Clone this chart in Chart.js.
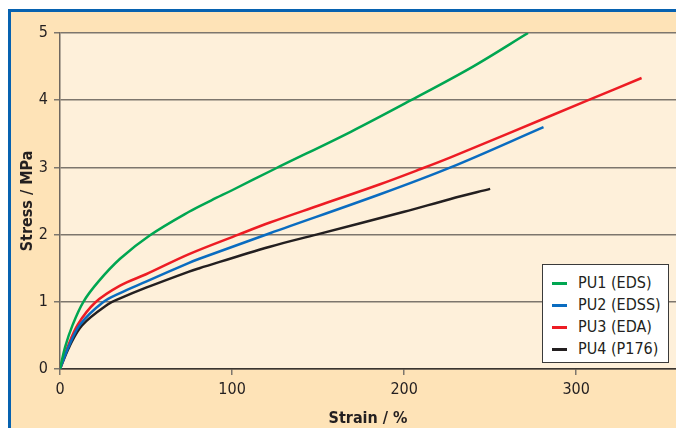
<!DOCTYPE html>
<html>
<head>
<meta charset="utf-8">
<script src="https://cdn.jsdelivr.net/npm/chart.js@4"></script>
<style>
  html, body { margin: 0; padding: 0; background: #ffffff; }
  #frame {
    position: absolute; left: 8px; top: 9px; width: 668px; height: 419px;
    box-sizing: border-box; border-left: 3px solid #0762b0; border-top: 3px solid #0762b0;
    background: #fee3b7;
  }
  #chart { position: absolute; left: 0; top: 0; }
  #legend {
    position: absolute; left: 542px; top: 264px; width: 127px; height: 99px;
    box-sizing: border-box; background: #ffffff; border: 1.5px solid #3a3a3a;
    font-family: 'Liberation Sans Narrow', 'DejaVu Sans Condensed', sans-serif;
    font-size: 16px; color: #231f20; padding-top: 7px;
  }
  .row { height: 22px; line-height: 22px; position: relative; white-space: nowrap; }
  .swatch { position: absolute; left: 9px; top: 10px; width: 15px; height: 2.5px; }
  .label { position: absolute; left: 35px; top: 0; }
</style>
</head>
<body>
<div id="frame"></div>
<canvas id="chart" width="676" height="428"></canvas>
<div id="legend"></div>
<script>
// values
const seriesNames = ["PU1 (EDS)", "PU2 (EDSS)", "PU3 (EDA)", "PU4 (P176)"];
const seriesColors = ["#00a651", "#0a6cc0", "#ed1c24", "#231f20"];

const pu1Strain = [0, 3, 7.4, 13.6, 22.3, 34.9, 52.3, 75, 88, 100, 125, 169, 204, 240, 272];
const pu1Stress = [0, 0.33, 0.66, 1.0, 1.3, 1.64, 1.99, 2.34, 2.51, 2.66, 2.98, 3.53, 4.0, 4.5, 5.0];

const pu2Strain = [0, 5, 11.6, 24.8, 34.9, 50, 75, 81, 122, 186, 227, 281];
const pu2Stress = [0, 0.33, 0.66, 0.99, 1.13, 1.3, 1.58, 1.64, 2.02, 2.6, 3.0, 3.6];

const pu3Strain = [0, 4.5, 10.3, 20.5, 34.9, 50, 75, 103.7, 122, 150, 186, 210, 227, 260, 307, 338];
const pu3Stress = [0, 0.33, 0.66, 0.99, 1.24, 1.41, 1.71, 2.0, 2.18, 2.43, 2.75, 2.98, 3.15, 3.5, 4.0, 4.33];

const pu4Strain = [0, 5.4, 12.8, 27.7, 34.9, 50, 75, 81, 122, 149, 200, 227, 250];
const pu4Stress = [0, 0.33, 0.65, 0.96, 1.05, 1.21, 1.45, 1.5, 1.82, 2.0, 2.34, 2.53, 2.68];

const xTicks = [0, 100, 200, 300];
const yTicks = [0, 1, 2, 3, 4, 5];

const strains = [pu1Strain, pu2Strain, pu3Strain, pu4Strain];
const stresses = [pu1Stress, pu2Stress, pu3Stress, pu4Stress];

const font = "'Liberation Sans Narrow', 'DejaVu Sans Condensed', sans-serif";
const gridColor = "#7d766d";

const plotBackground = {
  id: "plotBackground",
  beforeDraw(chart) {
    const { ctx, chartArea: a } = chart;
    ctx.save();
    ctx.fillStyle = "#fef0da";
    ctx.fillRect(a.left, a.top, a.right - a.left, a.bottom - a.top);
    ctx.restore();
  }
};

const datasets = seriesNames.map((name, i) => ({
  label: name,
  data: strains[i].map((x, j) => ({ x: x, y: stresses[i][j] })),
  borderColor: seriesColors[i],
  borderWidth: 2.5,
  pointRadius: 0,
  fill: false,
  showLine: true,
  tension: 0.35
}));

new Chart(document.getElementById("chart"), {
  type: "scatter",
  data: { datasets: datasets },
  plugins: [plotBackground],
  options: {
    responsive: false,
    animation: false,
    devicePixelRatio: 1,
    layout: { padding: { top: 33, right: 0, left: 0, bottom: 0 } },
    plugins: { legend: { display: false }, tooltip: { enabled: false } },
    scales: {
      x: {
        type: "linear",
        min: 0,
        max: 358,
        afterFit: s => { s.height = 59; },
        afterBuildTicks: s => { s.ticks = xTicks.map(v => ({ value: v })); },
        ticks: { color: "#231f20", font: { family: font, size: 16 }, padding: 5, maxRotation: 0 },
        grid: { drawOnChartArea: false, drawTicks: true, tickLength: 6, color: gridColor, lineWidth: 1.5 },
        border: { display: true, color: "#3a3530", width: 1.5 },
        title: {
          display: true, text: "Strain / %", color: "#231f20",
          font: { family: font, size: 16, weight: "bold", lineHeight: 1 }, padding: { top: 0, bottom: 1 }
        }
      },
      y: {
        min: 0,
        max: 5,
        afterFit: s => { s.width = 60; },
        afterBuildTicks: s => { s.ticks = yTicks.map(v => ({ value: v })); },
        ticks: { color: "#231f20", font: { family: font, size: 16 }, padding: 6 },
        grid: { drawTicks: true, tickLength: 6, color: gridColor, lineWidth: 1.5 },
        border: { display: true, color: "#6e675f", width: 1.5 },
        title: {
          display: true, text: "Stress / MPa", color: "#231f20",
          font: { family: font, size: 16, weight: "bold", lineHeight: 1 }, padding: { top: 20, bottom: 0 }
        }
      }
    }
  }
});

// legend box built from the series names and colours
const legend = document.getElementById("legend");
seriesNames.forEach((name, i) => {
  const row = document.createElement("div");
  row.className = "row";
  row.innerHTML = '<span class="swatch" style="background:' + seriesColors[i] + '"></span>' +
    '<span class="label">' + name + '</span>';
  legend.appendChild(row);
});
</script>
</body>
</html>
